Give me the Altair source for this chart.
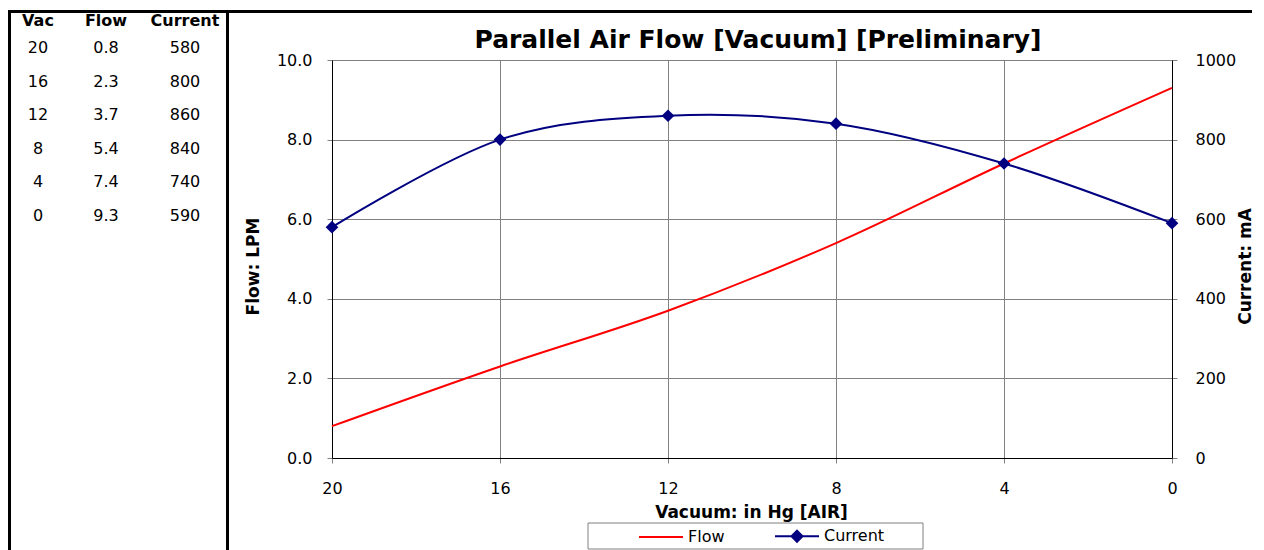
import altair as alt
import pandas as pd

# ---- data ----
vac = [20, 16, 12, 8, 4, 0]
flow = [0.8, 2.3, 3.7, 5.4, 7.4, 9.3]
current = [580, 800, 860, 840, 740, 590]
series_names = ["Flow", "Current"]
series_colors = ["#FF0000", "#000080"]
x_ticks = [20, 16, 12, 8, 4, 0]
flow_ticks = [0, 2, 4, 6, 8, 10]
current_ticks = [0, 200, 400, 600, 800, 1000]
table_headers = ["Vac", "Flow", "Current"]
table_formats = ["d", ".1f", "d"]

df = pd.DataFrame({"Vac": vac, "Flow": flow, "Current": current,
                   "row": list(range(len(vac)))})

FONT = "DejaVu Sans"
W, H = 840, 398
GRID = "#808080"

# ---- main chart ----
x_enc = alt.X(
    "Vac:Q",
    scale=alt.Scale(domain=[0, 20], reverse=True, nice=False),
    axis=alt.Axis(values=x_ticks, format="d", title="Vacuum: in Hg [AIR]",
                  grid=True, gridColor=GRID, gridWidth=1, domainColor="#000000",
                  tickColor=GRID, tickSize=5, labelPadding=17, labelFontSize=16,
                  labelFlush=False, titleFontSize=17, titleFontWeight="bold",
                  titleX=419, titleY=59.5, titleBaseline="alphabetic",
                  titleAlign="center"),
)

flow_y = alt.Y(
    "Flow:Q",
    scale=alt.Scale(domain=[0, 10], nice=False),
    axis=alt.Axis(values=flow_ticks, format=".1f", title="Flow: LPM", orient="left",
                  grid=True, gridColor=GRID, gridWidth=1, domainColor="#000000",
                  tickColor=GRID, tickSize=5, labelPadding=15, labelFontSize=16,
                  titleFontSize=17, titleFontWeight="bold", titleX=-79, titleY=206,
                  titleAngle=270, titleBaseline="middle", titleAlign="center"),
)

cur_y = alt.Y(
    "Current:Q",
    scale=alt.Scale(domain=[0, 1000], nice=False),
    axis=alt.Axis(values=current_ticks, format="d", title="Current: mA", orient="right",
                  grid=False, domainColor="#000000", tickColor=GRID, tickSize=5,
                  labelPadding=18, labelFontSize=16, titleFontSize=17,
                  titleFontWeight="bold", titleX=73, titleY=206, titleAngle=270,
                  titleBaseline="middle", titleAlign="center"),
)

flow_line = alt.Chart(df).mark_line(
    color=series_colors[0], strokeWidth=2, interpolate="cardinal"
).encode(x=x_enc, y=flow_y)

cur_line = alt.Chart(df).mark_line(
    color=series_colors[1], strokeWidth=2, interpolate="cardinal"
).encode(x=x_enc, y=cur_y)

cur_pts = alt.Chart(df).mark_point(
    shape="diamond", filled=True, size=160, color=series_colors[1], opacity=1
).encode(x=x_enc, y=cur_y)

inner = alt.layer(flow_line, alt.layer(cur_line, cur_pts)).resolve_scale(y="independent")

# ---- data table on the left ----
col_x = [-294, -226, -147]
row_scale = alt.Scale(type="point", domain=list(range(len(vac))), range=[-12, 156], padding=0)
table_layers = []
for name, fmt, cx in zip(table_headers, table_formats, col_x):
    vals = alt.Chart(df).mark_text(
        fontSize=16, font=FONT, align="center", baseline="middle", color="#000000"
    ).encode(
        x=alt.value(cx),
        y=alt.Y("row:O", scale=row_scale, axis=None),
        text=alt.Text(f"{name}:Q", format=fmt),
    )
    head = alt.Chart(pd.DataFrame({"h": [name]})).mark_text(
        fontSize=16, font=FONT, fontWeight="bold", align="center", baseline="middle",
        color="#000000"
    ).encode(x=alt.value(cx), y=alt.value(-39), text="h:N")
    table_layers += [vals, head]
table = alt.layer(*table_layers)

# ---- legend (legend-only layer) ----
line_path = "M-1,0H1"
line_diamond_path = "M-1,0H1M0,-0.25L0.25,0L0,0.25L-0.25,0Z"
leg = dict(title=None, orient="none", legendX=306, legendY=453, direction="horizontal",
           symbolSize=1936, symbolStrokeWidth=2, labelFontSize=16, labelFont=FONT,
           labelColor="#000000", labelOffset=4, columnPadding=46, padding=0)
legend_layer = alt.Chart(pd.DataFrame({"series": series_names})).transform_filter(
    "false"
).mark_point(filled=True, opacity=1).encode(
    color=alt.Color("series:N", scale=alt.Scale(domain=series_names, range=series_colors),
                    legend=alt.Legend(**leg)),
    stroke=alt.Stroke("series:N", scale=alt.Scale(domain=series_names, range=series_colors),
                      legend=alt.Legend(**leg)),
    shape=alt.Shape("series:N",
                    scale=alt.Scale(domain=series_names, range=[line_path, line_diamond_path]),
                    legend=alt.Legend(**leg)),
)

one = pd.DataFrame({"a": [0]})
legend_box = alt.Chart(one).mark_rect(fillOpacity=0, stroke="#808080", strokeWidth=1).encode(
    x=alt.value(256), x2=alt.value(591), y=alt.value(463), y2=alt.value(489)
)
rule_left = alt.Chart(one).mark_rule(color="#000000", strokeWidth=3).encode(
    x=alt.value(-322.5), y=alt.value(-50), y2=alt.value(490)
)
rule_table = alt.Chart(one).mark_rule(color="#000000", strokeWidth=3).encode(
    x=alt.value(-104.5), y=alt.value(-50), y2=alt.value(490)
)
rule_top = alt.Chart(one).mark_rule(color="#000000", strokeWidth=3).encode(
    x=alt.value(-322.5), x2=alt.value(920), y=alt.value(-48.5)
)

chart = alt.layer(
    inner, table, legend_layer, legend_box, rule_left, rule_table, rule_top
).resolve_scale(y="independent").properties(
    width=W, height=H, padding=0,
    title=alt.TitleParams(text="Parallel Air Flow [Vacuum] [Preliminary]", fontSize=25,
                          fontWeight="bold", font=FONT, anchor="middle", frame="group",
                          offset=0, dy=64, dx=6, baseline="alphabetic", color="#000000"),
).configure(font=FONT).configure_view(stroke="transparent").configure_axis(
    labelFont=FONT, titleFont=FONT, labelColor="#000000", titleColor="#000000"
)

chart.save("out.html", embed_options={"renderer": "svg", "actions": False})
